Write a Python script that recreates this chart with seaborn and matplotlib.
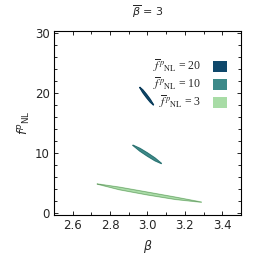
import numpy as np
import pandas as pd
import matplotlib.pyplot as plt
import matplotlib.patches as mpatches
from matplotlib.ticker import MultipleLocator
import seaborn as sns

# contour outlines: x, centre of band, half thickness
beta_20 = [2.958, 2.975, 2.995, 3.015, 3.033]
fnl_20 = [21.0, 20.32, 19.52, 18.72, 18.0]
half_20 = [0.0, 0.22, 0.26, 0.22, 0.0]

beta_10 = [2.921, 2.96, 3.0, 3.04, 3.076]
fnl_10 = [11.3, 10.52, 9.72, 8.92, 8.2]
half_10 = [0.0, 0.22, 0.26, 0.22, 0.0]

beta_3 = [2.73, 2.85, 3.0, 3.15, 3.29]
fnl_3 = [4.8, 4.05, 3.2, 2.4, 1.75]
half_3 = [0.0, 0.2, 0.22, 0.18, 0.0]

labels = [r"$\overline{f}^{\,p}{}_{\rm NL}$ = 20",
          r"$\overline{f}^{\,p}{}_{\rm NL}$ = 10",
          r"$\overline{f}^{\,p}{}_{\rm NL}$ = 3"]
colors = ["#0f486b", "#3d8a89", "#a8dca6"]
edges = ["#0a3550", "#2c6c6b", "#6e9e6c"]

sns.set_theme(style="ticks")
plt.rcParams['font.family'] = ['DejaVu Sans']
plt.rcParams['mathtext.fontset'] = 'dejavusans'

fig = plt.figure(figsize=(2.56, 2.56), dpi=100)
ax = fig.add_axes([0.211, 0.160, 0.730, 0.719])

sets = [(beta_20, fnl_20, half_20), (beta_10, fnl_10, half_10), (beta_3, fnl_3, half_3)]
for (bx, fy, hw), c, ec in zip(sets, colors, edges):
    bx = np.array(bx)
    fy = np.array(fy)
    hw = np.array(hw)
    xs = np.concatenate([bx, bx[::-1]])
    ys = np.concatenate([fy + hw, (fy - hw)[::-1]])
    ax.fill(xs, ys, color=c, zorder=2)
    outline = pd.DataFrame({'x': np.append(xs, xs[0]), 'y': np.append(ys, ys[0])})
    sns.lineplot(data=outline, x='x', y='y', sort=False, estimator=None,
                 color=ec, lw=0.4, ax=ax, zorder=3)

ax.set_xlim(2.5, 3.5)
ax.set_ylim(-0.4, 30.4)
ax.xaxis.set_major_locator(MultipleLocator(0.2))
ax.xaxis.set_minor_locator(MultipleLocator(0.1))
ax.yaxis.set_major_locator(MultipleLocator(10))
ax.yaxis.set_minor_locator(MultipleLocator(2))
ax.tick_params(which='both', direction='in', top=True, right=True,
               labelsize=8.5, width=0.6, color='black', pad=3)
ax.tick_params(which='major', length=3)
ax.tick_params(which='minor', length=2)
for s in ax.spines.values():
    s.set_linewidth(0.8)
    s.set_color('black')

ax.set_xlabel(r"$\beta$", fontsize=9, labelpad=4)
ax.set_ylabel(r"$f^{p}{}_{\rm NL}$", fontsize=9, labelpad=2)
ax.set_title(r"$\overline{\beta}$ = 3", fontsize=8, pad=11)

handles = [mpatches.Patch(color=c, linewidth=0) for c in colors]
leg = ax.legend(handles, labels, loc='upper right', frameon=False,
                markerfirst=False, handlelength=1.2, handleheight=1.05,
                handletextpad=1.0, labelspacing=0.12, borderaxespad=0.0,
                borderpad=0.0, bbox_to_anchor=(0.925, 0.855),
                prop={'family': 'Liberation Serif', 'size': 8.5,
                      'math_fontfamily': 'stix'})

fig.savefig("out.png", dpi=100)
